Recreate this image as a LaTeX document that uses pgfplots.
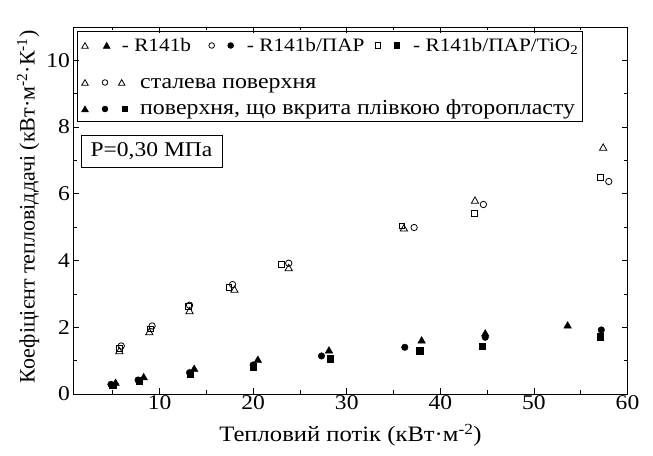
\documentclass[border=0pt]{standalone}
\usepackage{fontspec}
\setmainfont{Liberation Serif}[FakeStretch=1.12]
\newfontfamily\ylfont{Liberation Serif}
\usepackage{pgfplots}
\pgfplotsset{compat=1.18}
\usepackage{pgfplotstable}

% steel surface (open marks)
\pgfplotstableread{
x y
5.7 1.27
8.9 1.84
13.2 2.47
18.0 3.11
23.8 3.76
36.1 4.95
43.7 5.78
57.4 7.37
}\steelR
\pgfplotstableread{
x y
5.9 1.44
9.2 2.04
13.2 2.66
17.8 3.28
23.8 3.92
37.2 4.99
44.6 5.68
58.0 6.37
}\steelP
\pgfplotstableread{
x y
5.7 1.37
9.0 1.95
13.1 2.62
17.4 3.20
23.0 3.88
35.9 5.04
43.6 5.41
57.1 6.50
}\steelT
% fluoroplastic-coated surface (filled marks)
\pgfplotstableread{
x y
5.3 0.32
8.3 0.49
13.7 0.74
20.5 1.01
28.1 1.29
38.0 1.59
44.8 1.80
53.6 2.04
}\filmR
\pgfplotstableread{
x y
4.8 0.29
7.7 0.42
13.2 0.64
20.0 0.87
27.3 1.14
36.2 1.40
44.8 1.70
57.2 1.92
}\filmP
\pgfplotstableread{
x y
5.0 0.27
7.8 0.40
13.3 0.60
20.0 0.82
28.2 1.06
37.8 1.30
44.5 1.44
57.1 1.72
}\filmT

% small legend symbol
\newcommand{\lm}[2]{\tikz{\pgfsetlinewidth{0.8bp}\pgfsetplotmarksize{#2}\pgfuseplotmark{#1}}}
\tikzset{
  legtxt/.style={anchor=base west, inner sep=0pt, font=\fontsize{19bp}{22bp}\selectfont},
  legtxtb/.style={anchor=base west, inner sep=0pt, font=\fontsize{21.3bp}{24bp}\selectfont},
  legsym/.style={anchor=center, inner sep=0pt},
}

\begin{document}
\begin{tikzpicture}
\begin{axis}[
  scale only axis,
  width=554bp, height=367bp,
  xmin=0.8, xmax=60, ymin=0, ymax=11,
  xtick={10,20,...,60}, ytick={0,2,...,10},
  minor xtick={5,15,...,55}, minor ytick={1,3,...,9},
  tick align=inside,
  major tick length=6bp, minor tick length=3.5bp,
  every tick/.style={black, line width=0.8bp},
  axis line style={line width=0.8bp},
  /pgf/number format/assume math mode=true,
  ticklabel style={font=\fontsize{21bp}{24bp}\selectfont},
  xticklabel style={yshift=2bp},
  every axis x label/.style={at={(axis description cs:0.5,0)}, anchor=base, yshift=-47.7bp},
  every axis y label/.style={at={(axis description cs:-0.082,0.51)}, rotate=90, anchor=center},
  xlabel={\fontsize{22bp}{26bp}\selectfont Тепловий потік (кВт·м\textsuperscript{-2})},
  ylabel={\ylfont\fontsize{22bp}{26bp}\selectfont Коефіцієнт тепловіддачі (кВт·м\textsuperscript{-2}·К\textsuperscript{-1})},
  clip=false,
]
\addplot[only marks, mark=triangle, mark size=4.2bp, mark options={line width=0.8bp}] table {\steelR};
\addplot[only marks, mark=o, mark size=3.2bp, mark options={line width=0.8bp}] table {\steelP};
\addplot[only marks, mark=square, mark size=2.9bp, mark options={line width=0.8bp}] table {\steelT};
\addplot[only marks, mark=triangle*, mark size=4.4bp, mark options={fill=black}] table {\filmR};
\addplot[only marks, mark=*, mark size=3.3bp, mark options={fill=black}] table {\filmP};
\addplot[only marks, mark=square*, mark size=3.2bp, mark options={fill=black}] table {\filmT};

\coordinate (sw) at (rel axis cs:0,0);
\coordinate (ne) at (rel axis cs:1,1);
\coordinate (nw) at (rel axis cs:0,1);

% legend box
\draw[line width=0.6bp] ([shift={(3.8bp,-4.7bp)}]nw) rectangle ([shift={(508.5bp,-94.7bp)}]nw);
% row 1: fluids
\node[legsym] at ([shift={(11.5bp,-18.5bp)}]nw) {\lm{triangle}{3.8bp}};
\node[legsym] at ([shift={(33.2bp,-18.5bp)}]nw) {\lm{triangle*}{3.8bp}};
\node[legtxt] at ([shift={(48.2bp,-24.5bp)}]nw) {- R141b};
\node[legsym] at ([shift={(138.2bp,-18.5bp)}]nw) {\lm{o}{2.8bp}};
\node[legsym] at ([shift={(157.2bp,-18.5bp)}]nw) {\lm{*}{2.8bp}};
\node[legtxt] at ([shift={(173.2bp,-24.5bp)}]nw) {- R141b/ПАР};
\node[legsym] at ([shift={(304.5bp,-18.5bp)}]nw) {\lm{square}{2.6bp}};
\node[legsym] at ([shift={(323.5bp,-18.5bp)}]nw) {\lm{square*}{2.6bp}};
\node[legtxt] at ([shift={(339.5bp,-24.5bp)}]nw) {- R141b/ПАР/TiO\textsubscript{2}};
% row 2: steel surface
\node[legsym] at ([shift={(11.5bp,-55.5bp)}]nw) {\lm{triangle}{3.8bp}};
\node[legsym] at ([shift={(31.5bp,-55.5bp)}]nw) {\lm{o}{2.8bp}};
\node[legsym] at ([shift={(48.2bp,-55.5bp)}]nw) {\lm{triangle}{3.8bp}};
\node[legtxtb] at ([shift={(66.5bp,-61.5bp)}]nw) {сталева поверхня};
% row 3: coated surface
\node[legsym] at ([shift={(11.5bp,-82bp)}]nw) {\lm{triangle*}{3.8bp}};
\node[legsym] at ([shift={(31.5bp,-82bp)}]nw) {\lm{*}{2.8bp}};
\node[legsym] at ([shift={(51.5bp,-82bp)}]nw) {\lm{square*}{2.6bp}};
\node[legtxtb] at ([shift={(66.5bp,-88bp)}]nw) {поверхня, що вкрита плівкою фторопласту};

% pressure box
\node[draw, line width=0.6bp, anchor=north west, minimum width=141bp, minimum height=32bp, inner sep=0pt,
  font=\fontsize{21bp}{24bp}\selectfont] at ([shift={(7.2bp,-108bp)}]nw) {P=0,30 МПа};
\end{axis}
\pgfresetboundingbox
\path[use as bounding box] ([shift={(-73.5bp,-62bp)}]sw) rectangle ([shift={(25.5bp,27bp)}]ne);
\end{tikzpicture}
\end{document}
